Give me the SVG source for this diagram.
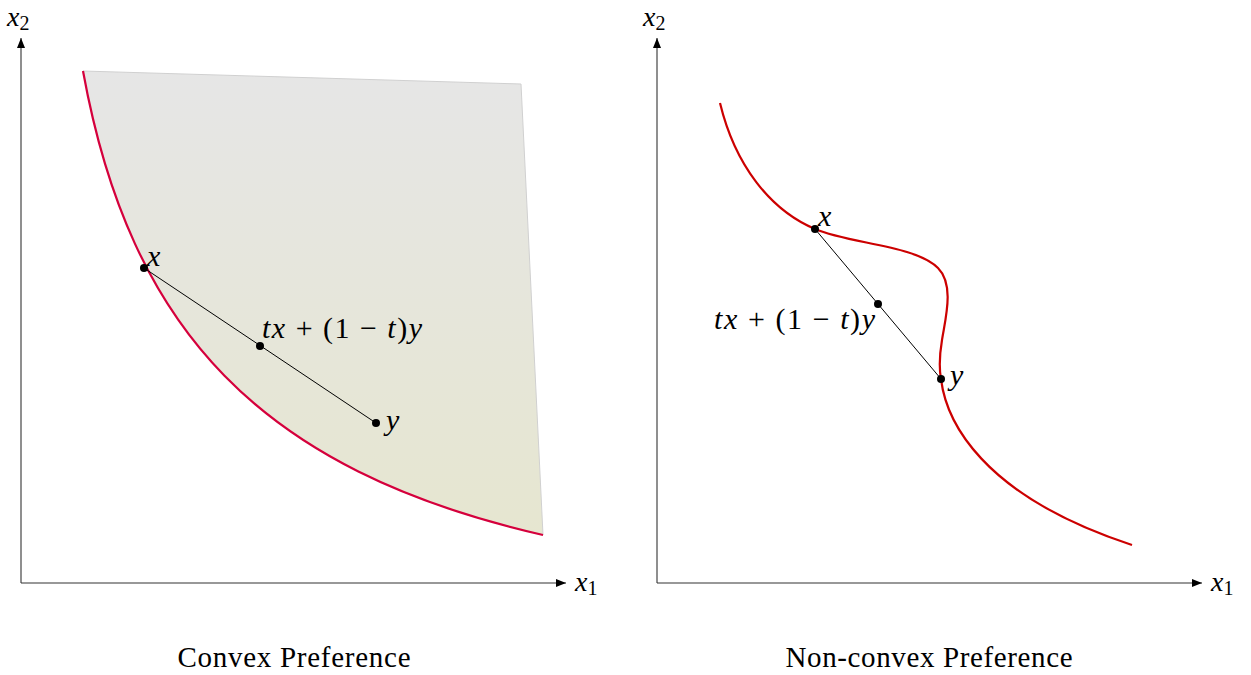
<svg xmlns="http://www.w3.org/2000/svg" width="1251" height="675" viewBox="0 0 1251 675">
<style>
.axis{stroke:#333;stroke-width:1.1;fill:none}
.seg{stroke:#000;stroke-width:1;fill:none}
.dot{fill:#000}
.m{font-family:"Liberation Serif","DejaVu Serif",serif;font-size:30px;fill:#000}
.ax{font-size:28px}
.i{font-style:italic}
.sub{font-size:20px}
.cap{font-family:"Liberation Serif","DejaVu Serif",serif;font-size:29px;fill:#000}
</style>
<defs>
<marker id="ah" viewBox="0 0 10 8" refX="10" refY="4" markerWidth="10" markerHeight="8" markerUnits="userSpaceOnUse" orient="auto">
<path d="M0,0 L10,4 L0,8 Z" fill="#000"/>
</marker>
<linearGradient id="g" x1="0" y1="0" x2="0" y2="1">
<stop offset="0" stop-color="#e6e6e6"/>
<stop offset="1" stop-color="#e6e6d0"/>
</linearGradient>
</defs>

<g id="left-panel">
<g id="left-region">
<path d="M83,71 L521,84 L543,535 C260,470 130,330 83,71 Z" fill="url(#g)" stroke="#d0d0d0" stroke-width="1"/>
</g>
<g id="left-axes">
<line class="axis" x1="21" y1="583" x2="21" y2="38" marker-end="url(#ah)"/>
<line class="axis" x1="21" y1="583" x2="566" y2="583" marker-end="url(#ah)"/>
<text class="m ax" x="7" y="26"><tspan class="i">x</tspan><tspan class="sub" dy="4">2</tspan></text>
<text class="m ax" x="575" y="591"><tspan class="i">x</tspan><tspan class="sub" dy="4">1</tspan></text>
</g>
<g id="left-curve">
<path d="M83,71 C130,330 260,470 543,535" fill="none" stroke="#d5003c" stroke-width="2.2"/>
</g>
<g id="left-connectors">
<line class="seg" x1="144" y1="268" x2="376" y2="423"/>
</g>
<g id="left-x"><circle class="dot" cx="144" cy="268" r="4"/><text class="m i" x="147" y="266">x</text></g>
<g id="left-mid"><circle class="dot" cx="260" cy="346" r="4"/><text class="m" x="262" y="338" textLength="160" lengthAdjust="spacing"><tspan class="i">tx</tspan> + (1 − <tspan class="i">t</tspan>)<tspan class="i">y</tspan></text></g>
<g id="left-y"><circle class="dot" cx="376" cy="423" r="4"/><text class="m i" x="386" y="430">y</text></g>
<text class="cap" x="294" y="667" text-anchor="middle" textLength="233" lengthAdjust="spacing">Convex Preference</text>
</g>

<g id="right-panel">
<g id="right-axes">
<line class="axis" x1="657" y1="583" x2="657" y2="38" marker-end="url(#ah)"/>
<line class="axis" x1="657" y1="583" x2="1202" y2="583" marker-end="url(#ah)"/>
<text class="m ax" x="643" y="26"><tspan class="i">x</tspan><tspan class="sub" dy="4">2</tspan></text>
<text class="m ax" x="1211" y="591"><tspan class="i">x</tspan><tspan class="sub" dy="4">1</tspan></text>
</g>
<g id="right-curve">
<path d="M720,103 C735,165 770,210 815,229 C850,244 915,245 938,268 C955,285 945,320 942,340 C939,358 939,368 941,379 C946,420 980,495 1132,545" fill="none" stroke="#cc0000" stroke-width="2.2"/>
</g>
<g id="right-connectors">
<line class="seg" x1="815" y1="229" x2="941" y2="379"/>
</g>
<g id="right-x"><circle class="dot" cx="815" cy="229" r="4"/><text class="m i" x="818" y="226">x</text></g>
<g id="right-mid"><circle class="dot" cx="878" cy="304" r="4"/><text class="m" x="714" y="329" textLength="161" lengthAdjust="spacing"><tspan class="i">tx</tspan> + (1 − <tspan class="i">t</tspan>)<tspan class="i">y</tspan></text></g>
<g id="right-y"><circle class="dot" cx="941" cy="379" r="4"/><text class="m i" x="950" y="385">y</text></g>
<text class="cap" x="929" y="667" text-anchor="middle" textLength="287" lengthAdjust="spacing">Non-convex Preference</text>
</g>
</svg>
